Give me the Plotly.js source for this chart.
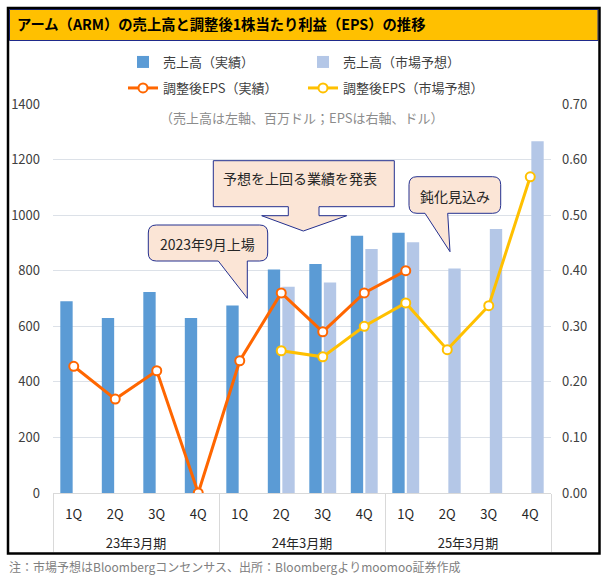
<!DOCTYPE html>
<html><head><meta charset="utf-8">
<script src="https://cdn.plot.ly/plotly-3.0.1.min.js"></script>
<style>html,body{margin:0;padding:0;background:#fff}#chart{width:613px;height:576px}</style>
</head><body><div id="chart"></div>
<script>
// ---- data ----
const fiscalYears = ['23年3月期', '24年3月期', '25年3月期'];
const quarters = ['1Q', '2Q', '3Q', '4Q'];
const salesActual = [690, 630, 723, 630, 675, 804, 824, 926, 937, null, null, null];
const salesForecast = [null, null, null, null, null, 742, 758, 878, 902, 808, 950, 1266];
const epsActual = [0.228, 0.169, 0.220, 0.000, 0.238, 0.360, 0.290, 0.360, 0.400, null, null, null];
const epsForecast = [null, null, null, null, null, 0.256, 0.245, 0.300, 0.342, 0.258, 0.337, 0.569];
const seriesNames = ['売上高（実績）', '売上高（市場予想）', '調整後EPS（実績）', '調整後EPS（市場予想）'];
const titleText = 'アーム（ARM）の売上高と調整後1株当たり利益（EPS）の推移';
const subtitleText = '（売上高は左軸、百万ドル；EPSは右軸、ドル）';
const footerText = '注：市場予想はBloombergコンセンサス、出所：Bloombergよりmoomoo証券作成';
const calloutTexts = ['2023年9月上場', '予想を上回る業績を発表', '鈍化見込み'];

// ---- build categories (a blank second line under each quarter label spaces the year row) ----
const xGroups = [], xQuarters = [];
fiscalYears.forEach(fy => quarters.forEach(q => { xGroups.push(fy); xQuarters.push(q + '<br>\u00a0'); }));
const xCats = [xGroups, xQuarters];

// ---- geometry helpers (pixel -> paper) ----
const W = 613, Hh = 576;
const mL = 53, mR = 62, mT = 104, mB = 83;
const PW = W - mL - mR, PH = Hh - mT - mB;
const X = px => (px - mL) / PW;
const Y = py => (Hh - mB - py) / PH;
function pathFrom(cmds) {
  return cmds.map(c => {
    if (c[0] === 'Z') return 'Z';
    if (c[0] === 'Q') return 'Q' + X(c[1]) + ',' + Y(c[2]) + ' ' + X(c[3]) + ',' + Y(c[4]);
    return c[0] + X(c[1]) + ',' + Y(c[2]);
  }).join(' ');
}
function roundCallout(x0, y0, x1, y1, r, a, b, tx, ty) {
  return pathFrom([
    ['M', x0 + r, y0], ['L', x1 - r, y0], ['Q', x1, y0, x1, y0 + r],
    ['L', x1, y1 - r], ['Q', x1, y1, x1 - r, y1], ['L', b, y1], ['L', tx, ty],
    ['L', a, y1], ['L', x0 + r, y1], ['Q', x0, y1, x0, y1 - r],
    ['L', x0, y0 + r], ['Q', x0, y0, x0 + r, y0], ['Z']
  ]);
}
const arrowCallout = pathFrom([
  ['M', 213.3, 160.7], ['L', 394.3, 160.7], ['L', 394.3, 206.7], ['L', 319, 206.7],
  ['L', 319, 215.7], ['L', 346.7, 215.7], ['L', 303.3, 231], ['L', 261.7, 215.7],
  ['L', 288.3, 215.7], ['L', 288.3, 206.7], ['L', 213.3, 206.7], ['Z']
]);

const FONT = '"Noto Sans CJK JP", "Noto Sans", sans-serif';
const calloutFill = '#FBE5D6', calloutLine = '#24308F';

const traces = [
  { type: 'bar', x: xCats, y: salesActual, name: seriesNames[0], legend: 'legend',
    marker: { color: '#5B9BD5' }, hoverinfo: 'skip' },
  { type: 'bar', x: xCats, y: salesForecast, name: seriesNames[1], legend: 'legend',
    marker: { color: '#B4C7E7' }, hoverinfo: 'skip' },
  { type: 'scatter', mode: 'lines+markers', x: xCats, y: epsActual, yaxis: 'y2', name: seriesNames[2],
    legend: 'legend2', line: { color: '#FF6600', width: 3 },
    marker: { symbol: 'circle', size: 9, color: '#FFFFFF', line: { color: '#FF6600', width: 2 } }, hoverinfo: 'skip' },
  { type: 'scatter', mode: 'lines+markers', x: xCats, y: epsForecast, yaxis: 'y2', name: seriesNames[3],
    legend: 'legend2', line: { color: '#FFC000', width: 3 },
    marker: { symbol: 'circle', size: 9, color: '#FFFFFF', line: { color: '#FFC000', width: 2 } }, hoverinfo: 'skip' }
];

const legendCommon = {
  orientation: 'h', xanchor: 'left', yanchor: 'middle', x: X(123),
  entrywidth: 135, entrywidthmode: 'pixels', bgcolor: 'rgba(0,0,0,0)',
  font: { family: FONT, size: 13, color: '#404040' }, traceorder: 'normal'
};

const layout = {
  width: W, height: Hh,
  margin: { l: mL, r: mR, t: mT, b: mB, pad: 0 },
  paper_bgcolor: '#FFFFFF', plot_bgcolor: 'rgba(0,0,0,0)',
  font: { family: FONT, size: 13, color: '#404040' },
  barmode: 'group', bargap: 0.3, bargroupgap: 0.15,
  showlegend: true,
  title: {
    text: titleText, xref: 'container', yref: 'container',
    x: 17 / W, xanchor: 'left', y: 1 - 25 / Hh, yanchor: 'middle',
    font: { family: FONT, size: 14.3, weight: 'bold', color: '#000000' }
  },
  xaxis: {
    type: 'multicategory', range: [-0.5, 11.5], autorange: false,
    showline: true, linecolor: '#D9D9D9', linewidth: 1,
    showdividers: true, dividercolor: '#D9D9D9', dividerwidth: 1,
    showgrid: false, ticks: '', ticklabelstandoff: 9,
    tickfont: { family: FONT, size: 13, color: '#262626' },
    fixedrange: true
  },
  yaxis: {
    range: [0, 1400], dtick: 200, showgrid: true, gridcolor: '#DCE1E8', gridwidth: 1,
    zeroline: false, showline: false, ticks: '', ticklabelstandoff: 12,
    tickfont: { family: FONT, size: 13, color: '#404040' }, fixedrange: true
  },
  yaxis2: {
    overlaying: 'y', side: 'right', range: [0, 0.7], dtick: 0.1, tickformat: '.2f',
    showgrid: false, zeroline: false, showline: false, ticks: '', ticklabelstandoff: 10,
    tickfont: { family: FONT, size: 13, color: '#404040' }, fixedrange: true
  },
  legend: Object.assign({}, legendCommon, { y: Y(62) }),
  legend2: Object.assign({}, legendCommon, { y: Y(88) }),
  shapes: [
    { type: 'rect', xref: 'paper', yref: 'paper', layer: 'below',
      x0: X(9.5), x1: X(598), y0: Y(9.5), y1: Y(40.5),
      fillcolor: '#FFC000', line: { color: '#1F2A8A', width: 1 } },
    { type: 'rect', xref: 'paper', yref: 'paper', layer: 'above',
      x0: X(8), x1: X(599.5), y0: Y(8), y1: Y(553.5),
      line: { color: '#000000', width: 2.5 } },
    { type: 'path', xref: 'paper', yref: 'paper', layer: 'above',
      path: roundCallout(148.3, 225, 267.7, 261, 8, 218.3, 247.3, 247.3, 298.3),
      fillcolor: calloutFill, line: { color: calloutLine, width: 1 } },
    { type: 'path', xref: 'paper', yref: 'paper', layer: 'above',
      path: arrowCallout, fillcolor: calloutFill, line: { color: calloutLine, width: 1 } },
    { type: 'path', xref: 'paper', yref: 'paper', layer: 'above',
      path: roundCallout(409, 176.7, 500.7, 213.3, 8, 425, 447.7, 450, 251.7),
      fillcolor: calloutFill, line: { color: calloutLine, width: 1 } }
  ],
  annotations: [
    { text: subtitleText, xref: 'paper', yref: 'paper', x: X(302), y: Y(117),
      xanchor: 'center', yanchor: 'middle', showarrow: false,
      font: { family: FONT, size: 13, color: '#8C8C8C' } },
    { text: calloutTexts[0], xref: 'paper', yref: 'paper', x: X(207.5), y: Y(243.5),
      xanchor: 'center', yanchor: 'middle', showarrow: false,
      font: { family: FONT, size: 14, color: '#262626' } },
    { text: calloutTexts[1], xref: 'paper', yref: 'paper', x: X(300), y: Y(177.5),
      xanchor: 'center', yanchor: 'middle', showarrow: false,
      font: { family: FONT, size: 14, color: '#262626' } },
    { text: calloutTexts[2], xref: 'paper', yref: 'paper', x: X(455), y: Y(195.5),
      xanchor: 'center', yanchor: 'middle', showarrow: false,
      font: { family: FONT, size: 14, color: '#262626' } },
    { text: footerText, xref: 'paper', yref: 'paper', x: X(7), y: Y(566),
      xanchor: 'left', yanchor: 'middle', showarrow: false,
      font: { family: FONT, size: 12, color: '#808080' } }
  ]
};

Plotly.newPlot('chart', traces, layout, { displayModeBar: false, staticPlot: true });
</script>
</body></html>
